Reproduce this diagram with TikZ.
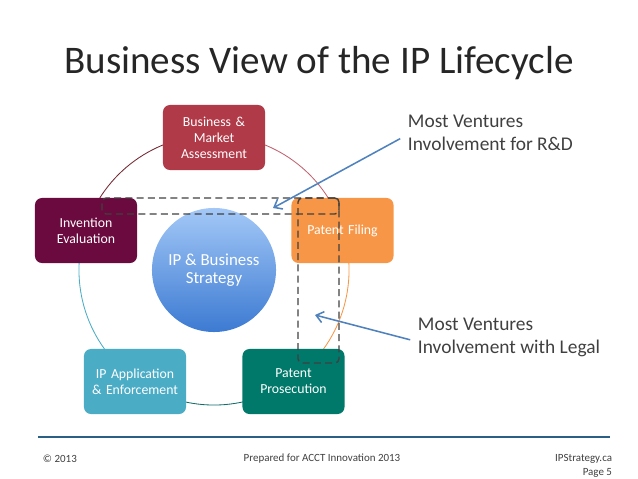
\documentclass[tikz,border=0pt]{standalone}
\usepackage{fontspec}
\setmainfont{Carlito}
\usepackage{tikz}
\usetikzlibrary{arrows.meta}
\usetikzlibrary{positioning}

\definecolor{marketred}{HTML}{B03A48}
\definecolor{inventionplum}{HTML}{6A0A3E}
\definecolor{filingorange}{HTML}{F79646}
\definecolor{prosecteal}{HTML}{00786A}
\definecolor{appaqua}{HTML}{4BACC6}
\definecolor{hubtop}{HTML}{A3C8F7}
\definecolor{hubbottom}{HTML}{3C7AD2}
\definecolor{zonegray}{HTML}{404040}
\definecolor{pointerblue}{HTML}{4F81BD}
\definecolor{footline}{HTML}{2A5F86}
\definecolor{textgray}{HTML}{404040}

\tikzset{
    stage/.style={rounded corners=5pt, minimum width=2.55cm, minimum height=1.625cm,
        text width=2.5cm, align=center, text=white, inner sep=0pt,
        font=\fontsize{9.8}{11.3}\selectfont},
    hub/.style={circle, minimum size=3.1cm, top color=hubtop, bottom color=hubbottom,
        text=white, align=center, font=\fontsize{12}{13}\selectfont},
    zone/.style={draw=zonegray, dash pattern=on 5pt off 3pt, line width=1pt,
        rounded corners=3pt, inner sep=0pt},
    pointer/.style={draw=pointerblue, line width=1.1pt, -{Straight Barb[length=5pt,width=8pt]}},
    ring/.style={line width=0.6pt},
    callout/.style={anchor=west, align=left, text=textgray, font=\fontsize{13.8}{16.3}\selectfont},
    footer/.style={text=textgray, font=\fontsize{7.8}{10}\selectfont}
}

\begin{document}
\begin{tikzpicture}[x=0.025cm, y=-0.025cm]
    \useasboundingbox (0, 0) rectangle (638, 479);

    % Title
    \node[text=black!85, font=\fontsize{27.8}{30}\selectfont] (title) at (319, 63) {Business View of the IP Lifecycle};

    % Ring behind the stages
    \coordinate (ringc) at (214, 270);
    \draw[ring, draw=black!35!marketred] (ringc) ++(90:3.375cm) arc[start angle=90, end angle=162, radius=3.375cm];
    \draw[ring, draw=marketred!80] (ringc) ++(18:3.375cm) arc[start angle=18, end angle=90, radius=3.375cm];
    \draw[ring, draw=filingorange] (ringc) ++(-54:3.375cm) arc[start angle=-54, end angle=18, radius=3.375cm];
    \draw[ring, draw=prosecteal!70!appaqua!80!black] (ringc) ++(234:3.375cm) arc[start angle=234, end angle=306, radius=3.375cm];
    \draw[ring, draw=appaqua] (ringc) ++(162:3.375cm) arc[start angle=162, end angle=234, radius=3.375cm];

    % Stages
    \node[stage, fill=marketred] (market) at (214, 137.5) {Business \&\\Market\\Assessment};
    \node[stage, fill=inventionplum] (invention) at (86, 230.5) {Invention\\Evaluation};
    \node[stage, fill=filingorange] (filing) at (342.5, 230.5) {Patent Filing};
    \node[stage, fill=prosecteal] (prosecution) at (293.5, 381.5) {Patent\\Prosecution};
    \node[stage, fill=appaqua] (application) at (135, 381.5) {IP Application\\\& Enforcement};

    % Centre
    \node[hub] (strategy) at (ringc) {IP \& Business\\Strategy};

    % Dashed zones
    \node[zone, minimum width=5.925cm, minimum height=0.4cm] (rdzone) at (220.5, 206) {};
    \node[zone, minimum width=1.025cm, minimum height=4.125cm] (legalzone) at (318.5, 280.5) {};

    % Callouts
    \node[callout] (rdlabel) at (403, 133) {Most Ventures\\Involvement for R\&D};
    \node[callout] (legallabel) at (413, 337) {Most Ventures\\Involvement with Legal};
    \coordinate (rdtip) at (273, 208);
    \coordinate (legaltip) at (315, 315);
    \draw[pointer] ([xshift=-2pt, yshift=-4pt]rdlabel.west) -- (rdtip);
    \draw[pointer] ([xshift=-2pt, yshift=-2pt]legallabel.west) -- (legaltip);

    % Footer
    \coordinate (footl) at (38, 437);
    \coordinate (footr) at (610, 437);
    \draw[footline, line width=1.8pt] (footl) -- (footr);
    \node[footer, anchor=west] (copy) at (38, 459) {© 2013};
    \node[footer] (prepared) at (322, 459) {Prepared for ACCT Innovation 2013};
    \node[footer, anchor=north east, align=right] (site) at (617, 449) {IPStrategy.ca\\Page 5};
\end{tikzpicture}
\end{document}
